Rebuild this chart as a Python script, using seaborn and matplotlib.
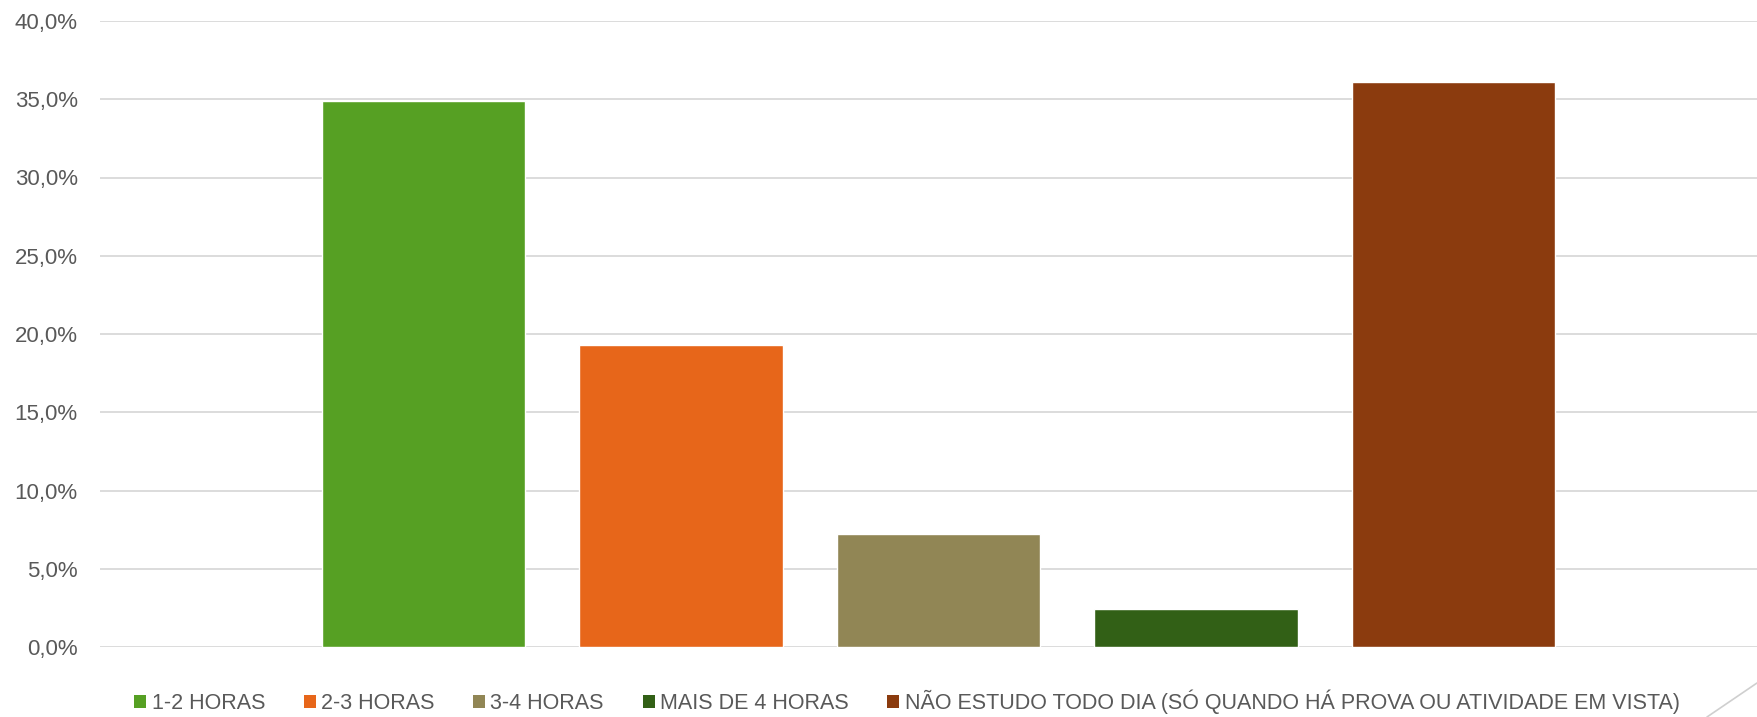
import numpy as np
import pandas as pd
import matplotlib
matplotlib.use("Agg")
import matplotlib.pyplot as plt
import seaborn as sns
from matplotlib.patches import Patch
from matplotlib.lines import Line2D

# data
categories = [
    "1-2 HORAS",
    "2-3 HORAS",
    "3-4 HORAS",
    "MAIS DE 4 HORAS",
    "NÃO ESTUDO TODO DIA (SÓ QUANDO HÁ PROVA OU ATIVIDADE EM VISTA)",
]
values = [34.9, 19.3, 7.2, 2.4, 36.1]
colors = ["#56A023", "#E7661A", "#918655", "#326016", "#8B3B0E"]
yticks = [0, 5, 10, 15, 20, 25, 30, 35, 40]

sns.set_style("white")
plt.rcParams["font.family"] = ["Liberation Sans", "DejaVu Sans"]

W, H = 1757, 717
fig = plt.figure(figsize=(W / 100, H / 100), dpi=100)
ax = fig.add_axes([100 / W, 70 / H, 1657 / W, 626 / H])

df = pd.DataFrame({"cat": categories, "val": values})
sns.barplot(data=df, x="cat", y="val", hue="cat", palette=colors,
            width=0.79, saturation=1, legend=False, ax=ax)

ax.set_ylim(0, 40)
ax.set_xlim(-1.257, 5.18)
ax.set_yticks(yticks)
ax.set_yticklabels([f"{v:.1f}%".replace(".", ",") for v in yticks])
ax.set_xticks([])
ax.set_xlabel("")
ax.set_ylabel("")
ax.tick_params(axis="y", length=0, pad=16, labelsize=16, labelcolor="#595959")
ax.set_axisbelow(True)
ax.yaxis.grid(True, color="#d9d9d9", lw=1.3)
for s in ax.spines.values():
    s.set_visible(False)

handles = [Patch(facecolor=c, edgecolor="none") for c in colors]
fig.legend(handles, categories, loc="center", ncol=5,
           bbox_to_anchor=(907 / W, 1 - 702 / H), frameon=False,
           fontsize=15.5, labelcolor="#595959", handlelength=0.55,
           handleheight=0.55, handletextpad=0.25, columnspacing=1.8)

# decorative slide line in the lower right corner
fig.add_artist(Line2D([1707 / W, 1.0], [0.0, 1 - 683 / H],
                      transform=fig.transFigure, color="#cfcfcf", lw=1.2))

fig.savefig("out.png", dpi=100)
